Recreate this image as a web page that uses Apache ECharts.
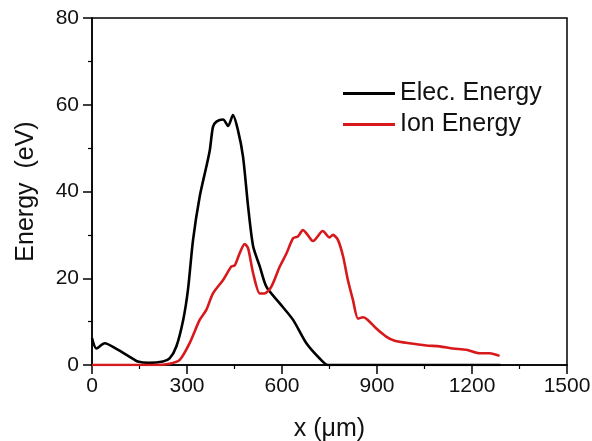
<!DOCTYPE html>
<html>
<head>
<meta charset="utf-8">
<script src="https://cdn.jsdelivr.net/npm/echarts@6/dist/echarts.min.js"></script>
<style>
  html, body { margin: 0; padding: 0; background: #fff; }
  #chart { width: 592px; height: 441px; }
</style>
</head>
<body>
<div id="chart"></div>
<script>
// electron energy profile (x in um, energy in eV)
var elecX = [0, 14, 40, 80, 119, 145, 180, 224, 245, 266, 288, 303, 319, 340, 361, 372, 382, 393, 414, 430, 445, 461, 477, 493, 509, 530, 551, 593, 635, 677, 719, 745, 760, 1290];
var elecY = [6.2, 3.8, 5.0, 3.6, 1.9, 0.8, 0.5, 0.8, 1.5, 4.2, 10.4, 17.3, 28.8, 38.8, 45.7, 49.5, 54.9, 56.1, 56.6, 55.1, 57.6, 54.1, 48.0, 36.5, 27.3, 22.7, 18.0, 14.2, 10.4, 5.0, 1.5, 0, 0, 0];

// ion energy profile
var ionX = [0, 200, 245, 277, 308, 340, 361, 382, 414, 440, 451, 466, 482, 493, 509, 530, 545, 566, 593, 614, 635, 650, 666, 693, 698, 729, 750, 761, 777, 793, 808, 824, 840, 856, 871, 898, 930, 956, 1003, 1056, 1098, 1140, 1182, 1224, 1256, 1287];
var ionY = [0, 0, 0.3, 1.2, 5.0, 10.4, 12.7, 16.5, 19.6, 22.7, 23.0, 25.7, 27.9, 26.9, 21.1, 16.5, 16.5, 18.0, 22.7, 25.7, 29.2, 29.6, 31.1, 28.8, 28.6, 30.9, 29.4, 30.0, 28.8, 25.0, 19.6, 15.0, 10.7, 11.0, 10.4, 8.4, 6.5, 5.6, 5.0, 4.5, 4.3, 3.8, 3.5, 2.7, 2.7, 2.1];

var names = ['Elec. Energy', 'Ion Energy'];
var colors = ['#000000', '#d7191c'];

function pairs(xs, ys) {
    var res = [];
    for (var i = 0; i < xs.length; i++) {
        res.push([xs[i], ys[i]]);
    }
    return res;
}

var font = 'Liberation Sans, Arial, sans-serif';
function axisParts(labelMargin) {
    return {
        axisLine: { show: true, onZero: false, lineStyle: { color: '#000', width: 1.5 } },
        axisTick: { show: true, inside: false, length: 9, lineStyle: { color: '#000', width: 1.5 } },
        minorTick: { show: true, splitNumber: 2, length: 4, lineStyle: { color: '#000', width: 1.2 } },
        splitLine: { show: false },
        axisLabel: {
            color: '#111', fontSize: 21, fontFamily: font, margin: labelMargin,
            formatter: function (v) { return String(v); }
        }
    };
}

var option = {
    backgroundColor: '#fff',
    animation: false,
    grid: {
        left: 92, right: 25, top: 18, bottom: 76,
        outerBoundsMode: 'none',
        show: true, borderColor: '#000', borderWidth: 1.5
    },
    legend: {
        orient: 'vertical',
        left: 338,
        top: 76,
        itemWidth: 52,
        itemHeight: 3,
        itemGap: 6,
        icon: 'rect',
        data: names,
        textStyle: { color: '#111', fontSize: 25, fontFamily: font }
    },
    xAxis: Object.assign({
        type: 'value',
        min: 0, max: 1500, interval: 300,
        name: 'x (\u03bcm)',
        nameLocation: 'middle',
        nameGap: 52,
        nameTextStyle: { color: '#111', fontSize: 25, fontFamily: font }
    }, axisParts(11)),
    yAxis: Object.assign({
        type: 'value',
        min: 0, max: 80, interval: 20,
        name: 'Energy  (eV)',
        nameLocation: 'middle',
        nameGap: 53,
        nameTextStyle: { color: '#111', fontSize: 25, fontFamily: font }
    }, axisParts(13)),
    series: [{
        name: names[0],
        type: 'line',
        smooth: 0.25,
        showSymbol: false,
        itemStyle: { color: colors[0] },
        lineStyle: { color: colors[0], width: 2.6 },
        data: pairs(elecX, elecY)
    }, {
        name: names[1],
        type: 'line',
        smooth: 0.25,
        showSymbol: false,
        itemStyle: { color: colors[1] },
        lineStyle: { color: colors[1], width: 2.6 },
        data: pairs(ionX, ionY)
    }]
};

var myChart = echarts.init(document.getElementById('chart'));
myChart.setOption(option);
</script>
</body>
</html>
